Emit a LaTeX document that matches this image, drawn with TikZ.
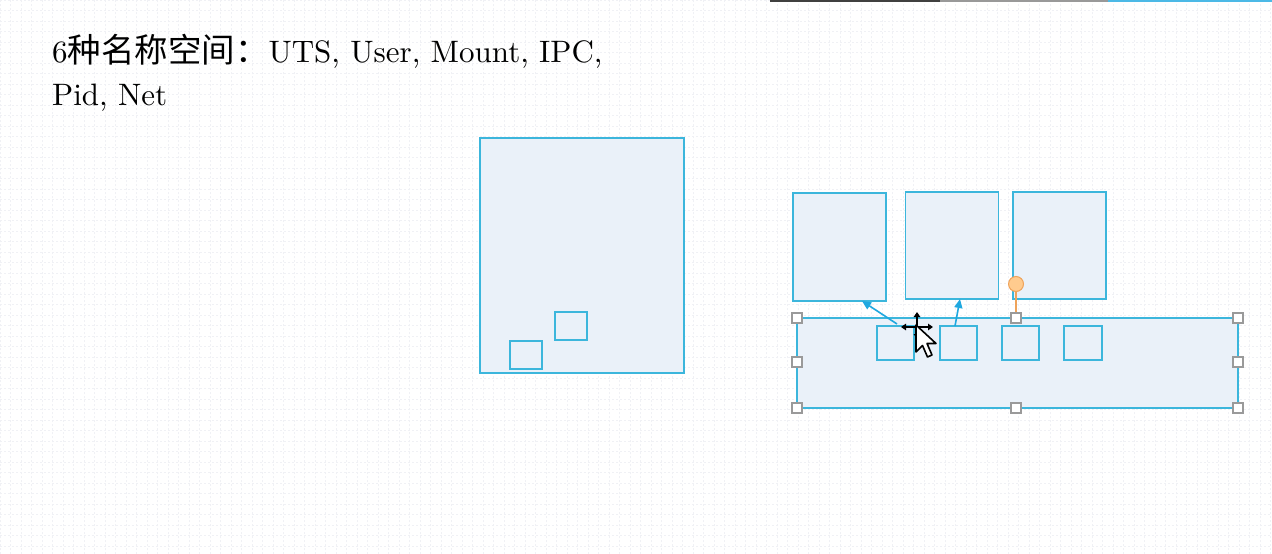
\documentclass[tikz,border=0pt]{standalone}
\usepackage{fontspec}
\setmainfont{lmroman10-regular.otf}
\newfontfamily\cjk{Noto Sans CJK SC}[Scale=1.08]
\usetikzlibrary{arrows.meta}
\definecolor{boxfill}{HTML}{EAF1F9}
\definecolor{boxline}{HTML}{3CB6DC}
\definecolor{arrowcol}{HTML}{1FA8E0}
\definecolor{handleline}{HTML}{9A9A9A}
\definecolor{rotfill}{HTML}{FFCB8E}
\definecolor{rotline}{HTML}{EFA35A}
\definecolor{gridcol}{HTML}{F0F1F5}
\tikzset{
  box/.style={draw=boxline, fill=boxfill, line width=1.6pt, inner sep=0pt, outer sep=0pt},
  handle/.style={draw=handleline, fill=white, line width=1.2pt, minimum size=10pt, inner sep=0pt},
  link/.style={draw=arrowcol, line width=1.6pt, -{Triangle[length=9pt,width=8pt]}},
  title/.style={anchor=base west, inner sep=0pt, font=\fontsize{31}{43}\selectfont},
  movearrow/.style={draw=black, line width=1.8pt, -{Triangle[length=5pt,width=6.5pt]}}
}
\begin{document}
\begin{tikzpicture}[x=1pt,y=-1pt]
\useasboundingbox (0,0) rectangle (1272,554);
\fill[white] (0,0) rectangle (1272,554);
% faint grid
\draw[gridcol, line width=0.6pt, dash pattern=on 2pt off 2pt] (0,0) grid[step=10.5pt] (1272,554);
% top bar
\draw[line width=2pt, black!75] (770,0.8) -- (940,0.8);
\draw[line width=2pt, black!40] (940,0.8) -- (1108,0.8);
\draw[line width=2.4pt, arrowcol!80] (1108,0.8) -- (1272,0.8);
% title
\node[title] (t1) at (52,62) {6{\cjk 种名称空间：}UTS, User, Mount, IPC,};
\node[title] (t2) at (52,105) {Pid, Net};
% left container
\node[box, minimum width=204pt, minimum height=235pt] (big) at (582,255.5) {};
\node[box, minimum width=32pt, minimum height=28pt] (bs1) at (526,355) {};
\node[box, minimum width=32pt, minimum height=28pt] (bs2) at (571,326) {};
% right top boxes
\node[box, minimum width=93pt, minimum height=108pt] (c1) at (839.5,247) {};
\node[box, minimum width=93pt, minimum height=107pt] (c2) at (952,245.5) {};
\node[box, minimum width=93pt, minimum height=107pt] (c3) at (1059.5,245.5) {};
% wide box
\node[box, minimum width=441pt, minimum height=90pt] (w) at (1017.5,363) {};
\node[box, minimum width=37pt, minimum height=34pt] (s1) at (895.5,343) {};
\node[box, minimum width=37pt, minimum height=34pt] (s2) at (958.5,343) {};
\node[box, minimum width=37pt, minimum height=34pt] (s3) at (1020.5,343) {};
\node[box, minimum width=38pt, minimum height=34pt] (s4) at (1083,343) {};
% arrows
\coordinate (a1) at (897,324);
\coordinate (a2) at (955,326);
\draw[link] (a1) -- (c1.south -| 862,0);
\draw[link] (a2) -- (c2.south -| 960,0);
% rotation handle
\node[draw=rotline, fill=rotfill, circle, minimum size=15pt, inner sep=0pt, line width=1pt] (rot) at (1016,284) {};
\draw[rotline, line width=1.2pt] (rot.south) -- (1016,318);
% selection handles
\foreach \n/\x/\y in {h1/797/318, h2/1016/318, h3/1238/318, h4/797/362, h5/1238/362, h6/797/408, h7/1016/408, h8/1238/408}
  \node[handle] (\n) at (\x,\y) {};
% cursor: move cross
\coordinate (mc) at (917,327);
\draw[movearrow] (mc) -- ++(0,-15);
\draw[movearrow] (mc) -- ++(-16,0);
\draw[movearrow] (mc) -- ++(16,0);
\draw[movearrow] (mc) -- ++(0,12);
% cursor: pointer
\draw[black, fill=white, line width=1.6pt, line join=round]
  (916,325) -- (916,352) -- (922.5,345.5) -- (927.5,357) -- (932,355) -- (927,343.5) -- (936,343.5) -- cycle;
\end{tikzpicture}
\end{document}
